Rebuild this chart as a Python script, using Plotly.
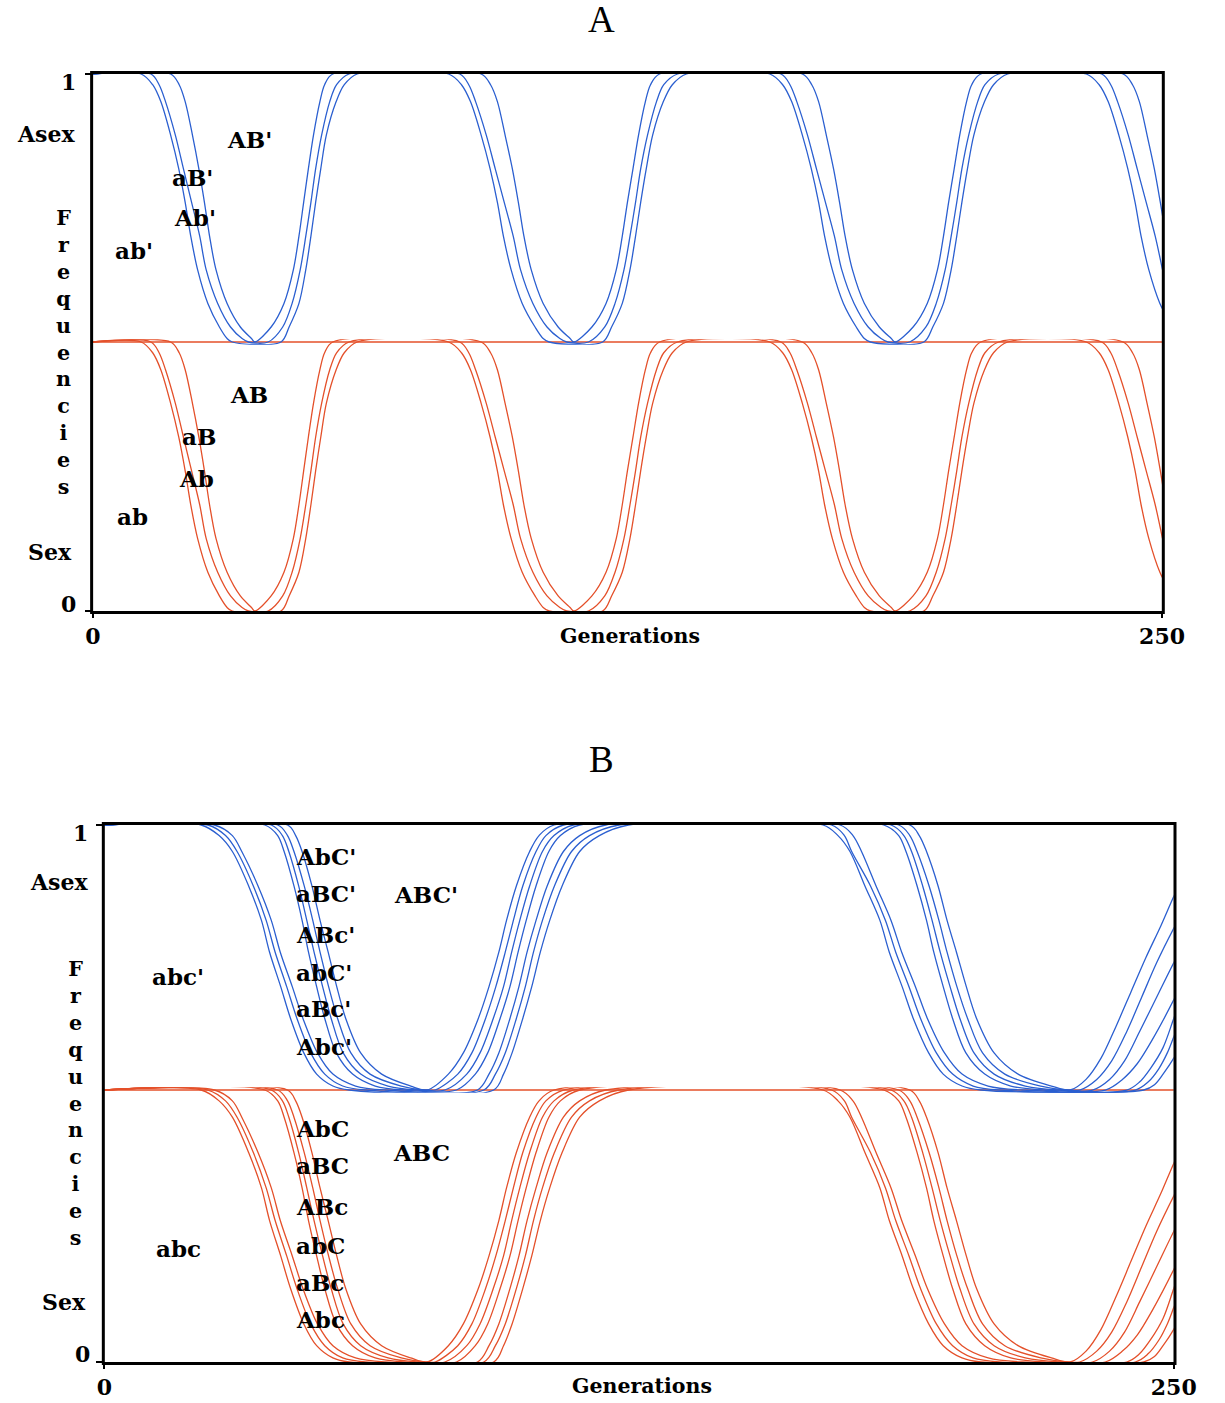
import plotly.graph_objects as go

# ---------------- Panel A (two loci) : cumulative genotype frequencies ----------------
A_C1_X = [0, 11.3, 14.0, 15.9, 18.2, 20.1, 21.6, 22.9, 24.5, 26.9, 29.6, 31.4, 32.6,
          44.0, 45.9, 48.2, 49.8, 51.0, 52.1, 53.3, 54.6, 56.9, 58.8, 61.8,
          83.2, 86.2, 88.3, 90.8, 92.9, 94.6, 96.0, 97.8, 100.4, 103.4, 105.3, 106.7,
          119.2, 121.3, 123.8, 125.6, 126.9, 128.1, 129.4, 130.9, 133.4, 135.5, 138.8,
          158.3, 161.3, 163.4, 165.9, 168.0, 169.7, 171.1, 172.9, 175.5, 178.5, 180.4, 181.8,
          194.3, 196.4, 198.9, 200.7, 202.0, 203.2, 204.5, 206.0, 208.5, 210.6, 213.9,
          232.3, 235.3, 237.4, 239.9, 242.0, 243.7, 245.1, 246.9, 249.5, 252.5]
A_C1_Y = [1, 1, 0.96, 0.897, 0.772, 0.646, 0.521, 0.395, 0.27, 0.144, 0.056, 0.013, 0,
          0, 0.056, 0.144, 0.27, 0.395, 0.521, 0.646, 0.772, 0.897, 0.96, 1,
          1, 0.96, 0.897, 0.772, 0.646, 0.521, 0.395, 0.27, 0.144, 0.056, 0.013, 0,
          0, 0.056, 0.144, 0.27, 0.395, 0.521, 0.646, 0.772, 0.897, 0.96, 1,
          1, 0.96, 0.897, 0.772, 0.646, 0.521, 0.395, 0.27, 0.144, 0.056, 0.013, 0,
          0, 0.056, 0.144, 0.27, 0.395, 0.521, 0.646, 0.772, 0.897, 0.96, 1,
          1, 0.96, 0.897, 0.772, 0.646, 0.521, 0.395, 0.27, 0.144, 0.056]

A_C2_X = [0, 13.6, 15.5, 17.0, 19.3, 21.2, 23.1, 25.0, 26.5, 29.2, 32.2, 34.9, 36.4,
          41.0, 44.4, 46.6, 48.5, 49.8, 51.0, 52.1, 53.5, 55.4, 57.0, 59.9,
          85.8, 87.9, 89.5, 92.0, 94.1, 96.2, 98.3, 100.0, 102.9, 106.2, 109.2, 110.8,
          115.9, 119.7, 122.1, 124.2, 125.6, 126.9, 128.1, 129.7, 131.8, 133.5, 136.7,
          160.9, 163.0, 164.6, 167.1, 169.2, 171.3, 173.4, 175.1, 178.0, 181.3, 184.3, 185.9,
          191.0, 194.8, 197.2, 199.3, 200.7, 202.0, 203.2, 204.8, 206.9, 208.6, 211.8,
          235.9, 238.0, 239.6, 242.1, 244.2, 246.3, 248.4, 250.1]
A_C2_Y = [1, 1, 0.96, 0.897, 0.772, 0.646, 0.521, 0.395, 0.27, 0.144, 0.056, 0.013, 0,
          0, 0.056, 0.144, 0.27, 0.395, 0.521, 0.646, 0.772, 0.897, 0.96, 1,
          1, 0.96, 0.897, 0.772, 0.646, 0.521, 0.395, 0.27, 0.144, 0.056, 0.013, 0,
          0, 0.056, 0.144, 0.27, 0.395, 0.521, 0.646, 0.772, 0.897, 0.96, 1,
          1, 0.96, 0.897, 0.772, 0.646, 0.521, 0.395, 0.27, 0.144, 0.056, 0.013, 0,
          0, 0.056, 0.144, 0.27, 0.395, 0.521, 0.646, 0.772, 0.897, 0.96, 1,
          1, 0.96, 0.897, 0.772, 0.646, 0.521, 0.395, 0.27]

A_C3_X = [0, 18.2, 20.2, 21.6, 23.3, 24.8, 26.1, 27.3, 28.8, 31.4, 34.5, 37.1, 37.9,
          41.7, 44.7, 46.9, 48.2, 49.3, 50.4, 51.6, 53.1, 54.2, 56.1,
          90.8, 93.0, 94.6, 96.4, 98.1, 99.5, 100.8, 102.5, 105.3, 108.8, 111.6, 112.5,
          116.7, 120.0, 122.4, 123.8, 125.0, 126.3, 127.6, 129.2, 130.4, 132.5,
          165.9, 168.1, 169.7, 171.5, 173.2, 174.6, 175.9, 177.6, 180.4, 183.9, 186.7, 187.6,
          191.8, 195.1, 197.5, 198.9, 200.1, 201.4, 202.7, 204.3, 205.5, 207.6,
          240.9, 243.1, 244.7, 246.5, 248.2, 249.6, 250.9]
A_C3_Y = [1, 1, 0.96, 0.897, 0.772, 0.646, 0.521, 0.395, 0.27, 0.144, 0.056, 0.013, 0,
          0.056, 0.144, 0.27, 0.395, 0.521, 0.646, 0.772, 0.897, 0.96, 1,
          1, 0.96, 0.897, 0.772, 0.646, 0.521, 0.395, 0.27, 0.144, 0.056, 0.013, 0,
          0.056, 0.144, 0.27, 0.395, 0.521, 0.646, 0.772, 0.897, 0.96, 1,
          1, 0.96, 0.897, 0.772, 0.646, 0.521, 0.395, 0.27, 0.144, 0.056, 0.013, 0,
          0.056, 0.144, 0.27, 0.395, 0.521, 0.646, 0.772, 0.897, 0.96, 1,
          1, 0.96, 0.897, 0.772, 0.646, 0.521, 0.395]

# ---------------- Panel B (three loci) ----------------
B_C1_X = [0, 22.6, 26.8, 29.9, 33.7, 36.7, 38.6, 41.2, 43.5, 46.6, 49.6, 53.4, 57.2,
          91.0, 93.3, 95.3, 97.8, 99.9, 101.9, 104.1, 107.0, 111.1, 115.7, 122.5,
          168.0, 171.5, 174.3, 177.8, 181.3, 183.5, 186.5, 189.1, 192.7, 196.1, 200.5, 204.9,
          243.0, 245.5, 247.5, 250.0, 252.5]
B_C1_Y = [1, 1, 0.96, 0.9, 0.77, 0.64, 0.52, 0.39, 0.27, 0.14, 0.06, 0.015, 0,
          0, 0.06, 0.14, 0.27, 0.39, 0.52, 0.64, 0.77, 0.9, 0.96, 1,
          1, 0.96, 0.9, 0.77, 0.64, 0.52, 0.39, 0.27, 0.14, 0.06, 0.015, 0,
          0, 0.02, 0.06, 0.12, 0.2]

B_C2_X = [0, 24.2, 28.3, 31.0, 34.8, 37.8, 39.9, 42.6, 45.0, 48.2, 51.5, 55.7, 61.0,
          88.7, 91.4, 93.7, 96.3, 98.4, 100.3, 102.4, 105.2, 109.2, 113.4, 120.3,
          170.0, 173.0, 174.7, 179.1, 182.6, 185.0, 188.1, 190.8, 194.5, 198.3, 203.1, 209.2,
          241.0, 244.0, 246.5, 248.5, 250.0, 252.0]
B_C2_Y = [1, 1, 0.96, 0.9, 0.77, 0.64, 0.52, 0.39, 0.27, 0.14, 0.06, 0.015, 0,
          0, 0.06, 0.14, 0.27, 0.39, 0.52, 0.64, 0.77, 0.9, 0.96, 1,
          1, 0.96, 0.9, 0.77, 0.64, 0.52, 0.39, 0.27, 0.14, 0.06, 0.015, 0,
          0, 0.03, 0.08, 0.14, 0.2, 0.28]

B_C3_X = [0, 25.7, 29.9, 32.1, 35.9, 39.0, 41.1, 43.9, 46.4, 49.8, 53.4, 58.7, 65.6,
          87.2, 89.9, 92.2, 94.8, 96.9, 98.8, 100.9, 103.5, 107.3, 111.1, 117.2,
          172.0, 175.0, 177.0, 180.4, 183.9, 186.4, 189.6, 192.4, 196.4, 200.5, 206.6, 214.5,
          239.0, 242.0, 244.5, 247.5, 250.0, 252.0]
B_C3_Y = [1, 1, 0.96, 0.9, 0.77, 0.64, 0.52, 0.39, 0.27, 0.14, 0.06, 0.015, 0,
          0, 0.06, 0.14, 0.27, 0.39, 0.52, 0.64, 0.77, 0.9, 0.96, 1,
          1, 0.96, 0.9, 0.77, 0.64, 0.52, 0.39, 0.27, 0.14, 0.06, 0.015, 0,
          0, 0.03, 0.08, 0.16, 0.27, 0.36]

B_C4_X = [0, 37.5, 40.5, 42.0, 44.3, 46.2, 47.7, 49.6, 51.5, 54.2, 58.0, 63.3, 70.1,
          82.3, 86.7, 89.6, 92.5, 94.8, 96.7, 98.6, 100.9, 103.9, 106.6, 111.1,
          182.2, 185.7, 187.4, 190.0, 192.2, 193.9, 196.1, 198.3, 201.4, 205.8, 211.9, 219.7,
          234.0, 238.0, 241.5, 245.0, 250.0, 253.0]
B_C4_Y = [1, 1, 0.96, 0.9, 0.77, 0.64, 0.52, 0.39, 0.27, 0.14, 0.06, 0.015, 0,
          0, 0.06, 0.14, 0.27, 0.39, 0.52, 0.64, 0.77, 0.9, 0.96, 1,
          1, 0.96, 0.9, 0.77, 0.64, 0.52, 0.39, 0.27, 0.14, 0.06, 0.015, 0,
          0, 0.04, 0.1, 0.19, 0.34, 0.44]

B_C5_X = [0, 39.0, 41.6, 43.1, 45.4, 47.3, 49.0, 51.0, 53.0, 55.8, 59.9, 66.3, 73.2,
          79.6, 84.7, 87.8, 90.9, 93.3, 95.2, 97.1, 99.4, 102.4, 105.1, 109.6,
          183.9, 186.9, 188.7, 191.3, 193.5, 195.4, 197.7, 200.0, 203.3, 208.0, 215.3, 223.3,
          231.0, 235.0, 238.5, 242.0, 246.0, 250.0, 253.0]
B_C5_Y = [1, 1, 0.96, 0.9, 0.77, 0.64, 0.52, 0.39, 0.27, 0.14, 0.06, 0.015, 0,
          0, 0.06, 0.14, 0.27, 0.39, 0.52, 0.64, 0.77, 0.9, 0.96, 1,
          1, 0.96, 0.9, 0.77, 0.64, 0.52, 0.39, 0.27, 0.14, 0.06, 0.015, 0,
          0, 0.04, 0.11, 0.22, 0.35, 0.48, 0.57]

B_C6_X = [0, 40.5, 42.8, 44.3, 46.7, 48.7, 50.4, 52.4, 54.5, 57.6, 62.1, 69.4, 75.1,
          77.3, 82.6, 85.9, 89.1, 91.5, 93.7, 95.6, 97.8, 100.9, 103.2, 107.3,
          185.7, 188.3, 190.0, 192.8, 195.1, 197.0, 199.3, 201.8, 205.3, 210.5, 218.9, 225.5,
          228.0, 232.0, 235.5, 239.0, 242.5, 246.0, 250.0, 253.0]
B_C6_Y = [1, 1, 0.96, 0.9, 0.77, 0.64, 0.52, 0.39, 0.27, 0.14, 0.06, 0.015, 0,
          0, 0.06, 0.14, 0.27, 0.39, 0.52, 0.64, 0.77, 0.9, 0.96, 1,
          1, 0.96, 0.9, 0.77, 0.64, 0.52, 0.39, 0.27, 0.14, 0.06, 0.015, 0,
          0, 0.04, 0.11, 0.22, 0.35, 0.48, 0.61, 0.7]

B_C7_X = [0, 42.8, 44.7, 46.2, 48.5, 50.4, 52.3, 54.3, 56.4, 59.9, 64.8, 71.6, 75.4,
          80.4, 83.9, 87.4, 89.9, 92.2, 94.0, 96.3, 99.4, 101.6, 105.1,
          188.3, 190.5, 192.2, 194.9, 197.0, 199.2, 201.5, 203.9, 208.0, 213.6, 221.4, 225.8,
          229.5, 233.0, 236.5, 240.0, 243.5, 247.0, 250.0, 253.0]
B_C7_Y = [1, 1, 0.96, 0.9, 0.77, 0.64, 0.52, 0.39, 0.27, 0.14, 0.06, 0.015, 0,
          0.06, 0.14, 0.27, 0.39, 0.52, 0.64, 0.77, 0.9, 0.96, 1,
          1, 0.96, 0.9, 0.77, 0.64, 0.52, 0.39, 0.27, 0.14, 0.06, 0.015, 0,
          0.04, 0.12, 0.24, 0.37, 0.5, 0.62, 0.73, 0.83]

# region labels: (text, generation, frequency)
A_ASEX_LABELS = [("AB'", 36.7, 0.757), ("aB'", 23.2, 0.612), ("Ab'", 23.9, 0.466), ("ab'", 9.6, 0.340)]
A_SEX_LABELS = [("AB", 36.6, 0.803), ("aB", 24.8, 0.647), ("Ab", 24.2, 0.494), ("ab", 9.3, 0.353)]
B_ASEX_STACK = [("AbC'", 0.883), ("aBC'", 0.740), ("ABc'", 0.585), ("abC'", 0.445), ("aBc'", 0.306), ("Abc'", 0.166)]
B_SEX_STACK = [("AbC", 0.860), ("aBC", 0.721), ("ABc", 0.570), ("abC", 0.430), ("aBc", 0.294), ("Abc", 0.158)]
B_ASEX_OTHER = [("ABC'", 75.2, 0.736), ("abc'", 17.3, 0.430)]
B_SEX_OTHER = [("ABC", 74.1, 0.772), ("abc", 17.3, 0.419)]
B_STACK_GEN = 44.2

X_TICKS = [0, 250]
X_TICKTEXT = ["0", "250"]

BLUE = "#2b5fd0"
RED = "#e4502a"
SERIF = "DejaVu Serif"

A_CURVES = [(A_C1_X, A_C1_Y), (A_C2_X, A_C2_Y), (A_C3_X, A_C3_Y)]
B_CURVES = [(B_C1_X, B_C1_Y), (B_C2_X, B_C2_Y), (B_C3_X, B_C3_Y), (B_C4_X, B_C4_Y),
            (B_C5_X, B_C5_Y), (B_C6_X, B_C6_Y), (B_C7_X, B_C7_Y)]

fig = go.Figure()


def add_line(x, y, color, xa, ya):
    fig.add_trace(go.Scatter(x=x, y=y, mode="lines",
                             line=dict(color=color, width=1.3, shape="spline", smoothing=0.9),
                             xaxis=xa, yaxis=ya, showlegend=False, hoverinfo="skip"))


# sex (red) drawn first, asex (blue) on top
for cx, cy in A_CURVES:
    add_line(cx, cy, RED, "x", "y2")
for cx, cy in B_CURVES:
    add_line(cx, cy, RED, "x2", "y4")
for cx, cy in A_CURVES:
    add_line(cx, cy, BLUE, "x", "y")
for cx, cy in B_CURVES:
    add_line(cx, cy, BLUE, "x2", "y3")

W, H = 1225.0, 1403.0


def px(v):
    return v / W


def py(v):
    return 1 - v / H


tickfont = dict(family=SERIF, size=22, color="black", weight="bold")
xcommon = dict(range=[0, 250], tickvals=X_TICKS, ticktext=X_TICKTEXT, ticks="outside",
               ticklen=6, tickwidth=2, tickcolor="black", showline=False, showgrid=False,
               zeroline=False, tickfont=tickfont, fixedrange=True)
ycommon = dict(range=[-0.01, 1.01], ticks="outside", ticklen=7, tickwidth=2, tickcolor="black",
               showticklabels=False, showline=False, showgrid=False, zeroline=False, fixedrange=True)

fig.update_layout(
    width=1225, height=1403,
    margin=dict(l=0, r=0, t=0, b=0),
    paper_bgcolor="white", plot_bgcolor="rgba(0,0,0,0)",
    showlegend=False,
    xaxis=dict(domain=[px(87), px(1184)], anchor="free", position=py(611), **xcommon),
    yaxis=dict(domain=[0.754327, 0.949166], anchor="x", tickvals=[1], **ycommon),
    yaxis2=dict(domain=[0.562587, 0.758154], anchor="x", tickvals=[0], **ycommon),
    xaxis2=dict(domain=[px(99), px(1196)], anchor="free", position=py(1362), **xcommon),
    yaxis3=dict(domain=[0.221205, 0.413863], anchor="x2", tickvals=[1], **ycommon),
    yaxis4=dict(domain=[0.027284, 0.225032], anchor="x2", tickvals=[0], **ycommon),
)

shapes = []


def hline(x0, x1, y, color, width, layer="above"):
    shapes.append(dict(type="line", xref="paper", yref="paper", x0=px(x0), x1=px(x1),
                       y0=py(y), y1=py(y), line=dict(color=color, width=width), layer=layer))


def vline(x, y0, y1, color, width, layer="above"):
    shapes.append(dict(type="line", xref="paper", yref="paper", x0=px(x), x1=px(x),
                       y0=py(y0), y1=py(y1), line=dict(color=color, width=width), layer=layer))


# mid lines (red)
hline(87, 1184, 342, RED, 1.6, "below")
hline(99, 1196, 1090, RED, 1.6, "below")
# frames panel A
hline(85, 1186, 72.6, "black", 3)
hline(85, 1186, 612.4, "black", 3)
vline(85.8, 71, 614, "black", 3)
vline(1185.3, 71, 614, "black", 3)
# frames panel B
hline(97, 1198, 823.6, "black", 3)
hline(97, 1198, 1363.4, "black", 3)
vline(97.8, 822, 1365, "black", 3)
vline(1197.3, 822, 1365, "black", 3)

fig.update_layout(shapes=shapes)

ann = []
bold = dict(family=SERIF, color="black", weight="bold")


def paper_text(text, x, y, size, font=None, **kw):
    f = dict(bold)
    if font:
        f = font
    f = dict(f, size=size)
    ann.append(dict(text=text, xref="paper", yref="paper", x=px(x), y=py(y), showarrow=False,
                    font=f, xanchor=kw.get("xanchor", "center"), yanchor="middle"))


def data_text(text, x, y, xr, yr, xanchor="center"):
    ann.append(dict(text=text, xref=xr, yref=yr, x=x, y=y, showarrow=False,
                    font=dict(bold, size=23), xanchor=xanchor, yanchor="middle"))


# titles
title_font = dict(family="Liberation Serif", color="black", weight="normal")
paper_text("A", 609, 20, 37, font=title_font)
paper_text("B", 609, 760, 37, font=title_font)

freq = "<br>".join(list("Frequencies"))
# panel A axis texts
paper_text("1", 62, 82, 22)
paper_text("0", 62, 604, 22)
paper_text("Asex", 39, 134, 22)
paper_text("Sex", 43, 552, 22)
paper_text(freq, 57, 352.75, 20.7)
paper_text("Generations", 638, 636, 20.5)
# panel B axis texts
paper_text("1", 74, 833, 22)
paper_text("0", 76, 1354, 22)
paper_text("Asex", 52, 882, 22)
paper_text("Sex", 57.5, 1302, 22)
paper_text(freq, 69, 1103, 20.7)
paper_text("Generations", 650, 1386, 20.5)

for t, gx, fy in A_ASEX_LABELS:
    data_text(t, gx, fy, "x", "y")
for t, gx, fy in A_SEX_LABELS:
    data_text(t, gx, fy, "x", "y2")
for t, fy in B_ASEX_STACK:
    data_text(t, B_STACK_GEN, fy, "x2", "y3", xanchor="left")
for t, fy in B_SEX_STACK:
    data_text(t, B_STACK_GEN, fy, "x2", "y4", xanchor="left")
for t, gx, fy in B_ASEX_OTHER:
    data_text(t, gx, fy, "x2", "y3")
for t, gx, fy in B_SEX_OTHER:
    data_text(t, gx, fy, "x2", "y4")

fig.update_layout(annotations=ann)

fig.write_html("out.html")
